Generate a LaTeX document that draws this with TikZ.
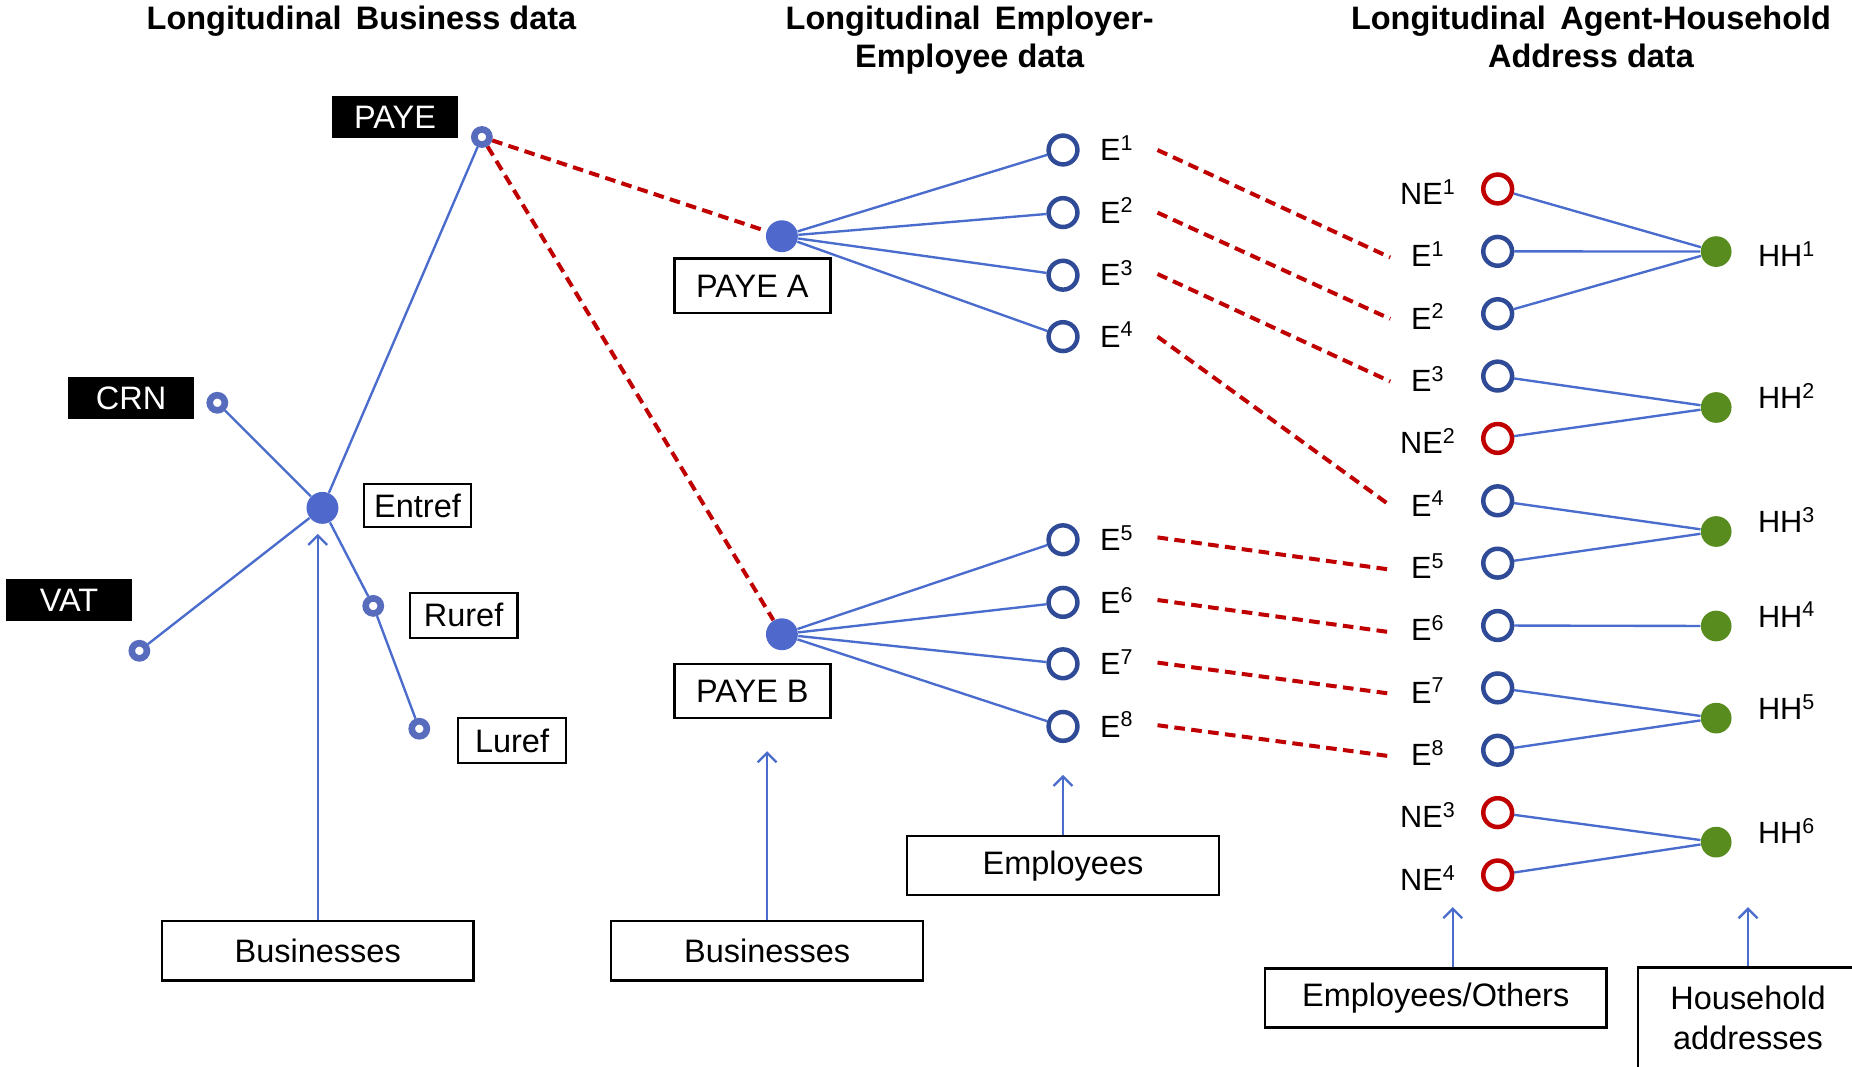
\documentclass[tikz,border=0pt]{standalone}
\usepackage{fontspec}
\setmainfont{Liberation Sans}
\usetikzlibrary{arrows.meta}
\definecolor{lineblue}{RGB}{74,108,205}
\definecolor{dotblue}{RGB}{78,104,204}
\definecolor{navy}{RGB}{47,74,150}
\definecolor{ringblue}{RGB}{88,108,190}
\definecolor{dred}{RGB}{192,0,0}
\definecolor{hgreen}{RGB}{88,140,30}
\pgfdeclarelayer{bg}
\pgfsetlayers{bg,main}
\newcommand{\lblfont}{\fontsize{13.75}{17}\selectfont}
\newcommand{\efont}{\fontsize{13}{15}\selectfont}
\begin{document}
\begin{tikzpicture}[x=0.5pt,y=-0.5pt,
  ttl/.style={font=\lblfont\bfseries, align=center, inner sep=0pt},
  elbl/.style={font=\efont, inner sep=0pt},
  blackbox/.style={fill=black, text=white, font=\lblfont, minimum width=53.5pt, minimum height=18pt, inner sep=0pt},
  wbox/.style={draw=black, line width=1pt, font=\lblfont, inner sep=0pt},
  ecirc/.style={circle, draw=navy, line width=1.9pt, minimum size=12.2pt, inner sep=0pt},
  necirc/.style={ecirc, draw=dred},
  bdot/.style={circle, fill=dotblue, minimum size=13.5pt, inner sep=0pt},
  gdot/.style={circle, fill=hgreen, minimum size=13pt, inner sep=0pt},
  ring/.style={circle, draw=ringblue, line width=2.8pt, minimum size=6.4pt, inner sep=0pt},
  link/.style={draw=lineblue, line width=1pt},
  rdash/.style={draw=dred, line width=1.7pt, dash pattern=on 4.5pt off 2.7pt},
  arr/.style={draw=lineblue, line width=1pt, -{Straight Barb[length=4pt,width=8pt]}},
]
\useasboundingbox (0,0) rectangle (1568,903);
\begin{pgfonlayer}{bg}
  \fill[white] (0,0) rectangle (1568,903);
\end{pgfonlayer}
\clip (0,0) rectangle (1568,903);

% ---------- titles ----------
\node[ttl, anchor=base] (t1) at (306,25) {Longitudinal\, Business data};
\node[ttl, anchor=base] (t2a) at (821,25) {Longitudinal\, Employer-};
\node[ttl, anchor=base] (t2b) at (821,57) {Employee data};
\node[ttl, anchor=base] (t3a) at (1347,25) {Longitudinal\, Agent-Household};
\node[ttl, anchor=base] (t3b) at (1347,57) {Address data};

% ---------- left: business data ----------
\node[blackbox] (payebox) at (334.5,99) {PAYE};
\node[blackbox] (crnbox) at (111,337) {CRN};
\node[blackbox] (vatbox) at (58.5,508) {VAT};
\node[ring] (payering) at (408,116) {};
\node[ring] (crnring) at (184,341) {};
\node[ring] (vatring) at (118,551) {};
\node[ring] (rurefring) at (316,513) {};
\node[ring] (lurefring) at (355,617) {};
\node[bdot] (entref) at (273,430) {};
\node[wbox, minimum width=45.5pt, minimum height=18pt] (entrefbox) at (353.5,428) {Entref};
\node[wbox, minimum width=45.5pt, minimum height=19pt] (rurefbox) at (392.5,521) {Ruref};
\node[wbox, minimum width=45.5pt, minimum height=19pt] (lurefbox) at (433.5,627) {Luref};
\node[wbox, minimum width=132pt, minimum height=25pt] (bus1) at (269,805) {Businesses};
\coordinate (a1) at (269,452);

% ---------- middle: employer-employee ----------
\node[bdot] (payea) at (662,200) {};
\node[bdot] (payeb) at (662,537) {};
\node[wbox, minimum width=66pt, minimum height=23pt] (payeabox) at (637,242) {PAYE A};
\node[wbox, minimum width=66pt, minimum height=23pt] (payebbox) at (637,585) {PAYE B};
\node[ecirc] (m1) at (900,127) {};
\node[ecirc] (m2) at (900,180) {};
\node[ecirc] (m3) at (900,233) {};
\node[ecirc] (m4) at (900,285) {};
\node[ecirc] (m5) at (900,457) {};
\node[ecirc] (m6) at (900,510) {};
\node[ecirc] (m7) at (900,562) {};
\node[ecirc] (m8) at (900,615) {};
\node[elbl, anchor=base west] (ml1) at (931,136) {E\textsuperscript{1}};
\node[elbl, anchor=base west] (ml2) at (931,189) {E\textsuperscript{2}};
\node[elbl, anchor=base west] (ml3) at (931,242) {E\textsuperscript{3}};
\node[elbl, anchor=base west] (ml4) at (931,294) {E\textsuperscript{4}};
\node[elbl, anchor=base west] (ml5) at (931,466) {E\textsuperscript{5}};
\node[elbl, anchor=base west] (ml6) at (931,519) {E\textsuperscript{6}};
\node[elbl, anchor=base west] (ml7) at (931,571) {E\textsuperscript{7}};
\node[elbl, anchor=base west] (ml8) at (931,624) {E\textsuperscript{8}};
\node[wbox, minimum width=132pt, minimum height=25pt] (bus2) at (649.5,805) {Businesses};
\node[wbox, minimum width=132pt, minimum height=25pt] (empl) at (900,733) {Employees};
\coordinate (a2) at (649.5,636);
\coordinate (a3) at (900,656);

% ---------- right: agent-household ----------
\node[necirc] (r1) at (1268,160) {};
\node[ecirc]  (r2) at (1268,212.8) {};
\node[ecirc]  (r3) at (1268,265.6) {};
\node[ecirc]  (r4) at (1268,318.4) {};
\node[necirc] (r5) at (1268,371.2) {};
\node[ecirc]  (r6) at (1268,424) {};
\node[ecirc]  (r7) at (1268,476.8) {};
\node[ecirc]  (r8) at (1268,529.6) {};
\node[ecirc]  (r9) at (1268,582.4) {};
\node[ecirc]  (r10) at (1268,635.2) {};
\node[necirc] (r11) at (1268,688) {};
\node[necirc] (r12) at (1268,740.8) {};
\node[elbl, anchor=base] (rl1) at (1209,173) {NE\textsuperscript{1}};
\node[elbl, anchor=base] (rl2) at (1209,225.8) {E\textsuperscript{1}};
\node[elbl, anchor=base] (rl3) at (1209,278.6) {E\textsuperscript{2}};
\node[elbl, anchor=base] (rl4) at (1209,331.4) {E\textsuperscript{3}};
\node[elbl, anchor=base] (rl5) at (1209,384.2) {NE\textsuperscript{2}};
\node[elbl, anchor=base] (rl6) at (1209,437) {E\textsuperscript{4}};
\node[elbl, anchor=base] (rl7) at (1209,489.8) {E\textsuperscript{5}};
\node[elbl, anchor=base] (rl8) at (1209,542.6) {E\textsuperscript{6}};
\node[elbl, anchor=base] (rl9) at (1209,595.4) {E\textsuperscript{7}};
\node[elbl, anchor=base] (rl10) at (1209,648.2) {E\textsuperscript{8}};
\node[elbl, anchor=base] (rl11) at (1209,701) {NE\textsuperscript{3}};
\node[elbl, anchor=base] (rl12) at (1209,753.8) {NE\textsuperscript{4}};
\node[gdot] (hh1) at (1453,213) {};
\node[gdot] (hh2) at (1453,345) {};
\node[gdot] (hh3) at (1453,450) {};
\node[gdot] (hh4) at (1453,530) {};
\node[gdot] (hh5) at (1453,608) {};
\node[gdot] (hh6) at (1453,713) {};
\node[elbl, anchor=base west] (hl1) at (1488,226) {HH\textsuperscript{1}};
\node[elbl, anchor=base west] (hl2) at (1488,346) {HH\textsuperscript{2}};
\node[elbl, anchor=base west] (hl3) at (1488,451) {HH\textsuperscript{3}};
\node[elbl, anchor=base west] (hl4) at (1488,531) {HH\textsuperscript{4}};
\node[elbl, anchor=base west] (hl5) at (1488,609) {HH\textsuperscript{5}};
\node[elbl, anchor=base west] (hl6) at (1488,714) {HH\textsuperscript{6}};
\node[wbox, minimum width=144.5pt, minimum height=25pt] (eo) at (1215.5,845) {Employees/Others};
\node[wbox, align=center, minimum width=93pt, minimum height=43pt] (hhbox) at (1480,862) {Household\\addresses};
\coordinate (a4) at (1230,768);
\coordinate (a5) at (1480,768);

% dashed link end points
\coordinate (d1s) at (980,127);  \coordinate (d1e) at (1177,218);
\coordinate (d2s) at (980,180);  \coordinate (d2e) at (1177,270);
\coordinate (d3s) at (980,232);  \coordinate (d3e) at (1177,323);
\coordinate (d4s) at (980,285);  \coordinate (d4e) at (1177,428);
\coordinate (d5s) at (980,455);  \coordinate (d5e) at (1175,482);
\coordinate (d6s) at (980,508);  \coordinate (d6e) at (1175,535);
\coordinate (d7s) at (980,561);  \coordinate (d7e) at (1175,587);
\coordinate (d8s) at (980,614);  \coordinate (d8e) at (1175,640);

% ---------- connectors ----------
\begin{pgfonlayer}{bg}
  \draw[link] (entref) -- (payering);
  \draw[link] (entref) -- (crnring);
  \draw[link] (entref) -- (vatring);
  \draw[link] (entref) -- (rurefring);
  \draw[link] (rurefring) -- (lurefring);
  \draw[rdash] (payering) -- (payea);
  \draw[rdash] (payering) -- (payeb);
  \foreach \m in {1,2,3,4} {\draw[link] (payea) -- (m\m);}
  \foreach \m in {5,6,7,8} {\draw[link] (payeb) -- (m\m);}
  \foreach \d in {1,...,8} {\draw[rdash] (d\d s) -- (d\d e);}
  \draw[link] (r1) -- (hh1);
  \draw[link] (r2) -- (hh1);
  \draw[link] (r3) -- (hh1);
  \draw[link] (r4) -- (hh2);
  \draw[link] (r5) -- (hh2);
  \draw[link] (r6) -- (hh3);
  \draw[link] (r7) -- (hh3);
  \draw[link] (r8) -- (hh4);
  \draw[link] (r9) -- (hh5);
  \draw[link] (r10) -- (hh5);
  \draw[link] (r11) -- (hh6);
  \draw[link] (r12) -- (hh6);
  \draw[arr] (bus1.north) -- (a1);
  \draw[arr] (bus2.north) -- (a2);
  \draw[arr] (empl.north) -- (a3);
  \draw[arr] (eo.north -| a4) -- (a4);
  \draw[arr] (hhbox.north) -- (a5);
\end{pgfonlayer}
\end{tikzpicture}
\end{document}
